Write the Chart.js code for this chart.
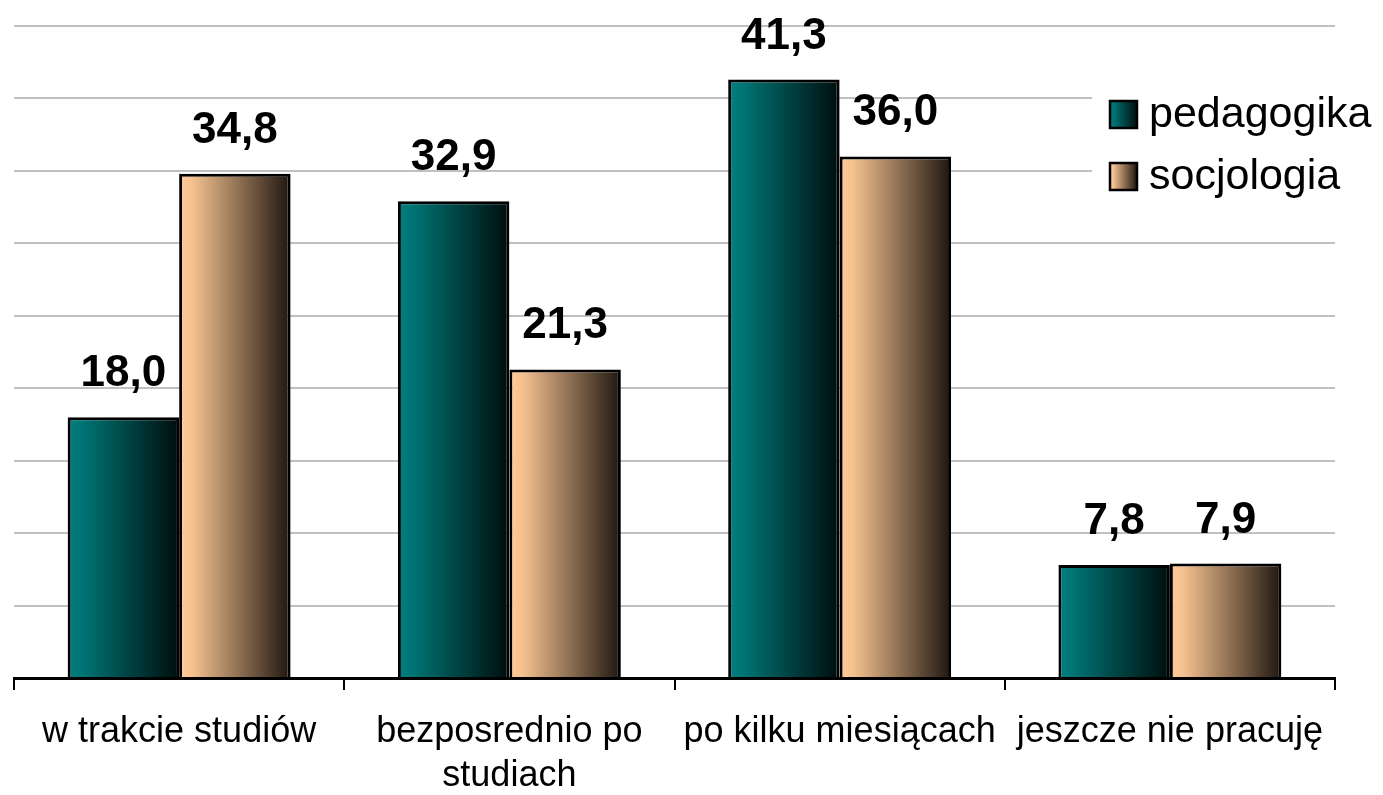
<!DOCTYPE html>
<html>
<head>
<meta charset="utf-8">
<script src="https://cdn.jsdelivr.net/npm/chart.js@4.4.1/dist/chart.umd.min.js"></script>
<style>
  body { margin: 0; background: #fff; }
  #wrap { width: 1383px; height: 795px; }
</style>
</head>
<body>
<div id="wrap"><canvas id="myChart"></canvas></div>
<script>
var categories = ["w trakcie studiów", ["bezposrednio po", "studiach"], "po kilku miesiącach", "jeszcze nie pracuję"];
var seriesNames = ["pedagogika", "socjologia"];
var pedagogika = [18.0, 32.9, 41.3, 7.8];
var socjologia = [34.8, 21.3, 36.0, 7.9];
var yTicks = [0, 5, 10, 15, 20, 25, 30, 35, 40, 45];

var FONT = "'Liberation Sans', Arial, sans-serif";
var CAT_PCT = 0.675;
var tealStops = ["#008080", "#007575", "#000d0d"];
var peachStops = ["#ffcc99", "#f4c18f", "#1e1610"];

// horizontal gradient across one bar, geometry taken from the x scale
function barGradient(ctx, stops) {
  var chart = ctx.chart;
  var xs = chart.scales.x;
  if (!chart.chartArea || !xs) return stops[0];
  var catW = xs.width / categories.length;
  var groupW = catW * CAT_PCT;
  var barW = groupW / 2;
  var left = xs.getPixelForValue(ctx.dataIndex) - groupW / 2 + ctx.datasetIndex * barW;
  var g = chart.ctx.createLinearGradient(left, 0, left + barW, 0);
  g.addColorStop(0, stops[0]);
  g.addColorStop(0.12, stops[1]);
  g.addColorStop(1, stops[2]);
  return g;
}

var valueLabels = {
  id: "valueLabels",
  afterDatasetsDraw: function (chart) {
    var c = chart.ctx;
    c.save();
    c.font = "bold 44px " + FONT;
    c.fillStyle = "#000";
    c.textAlign = "center";
    c.textBaseline = "alphabetic";
    chart.data.datasets.forEach(function (ds, di) {
      chart.getDatasetMeta(di).data.forEach(function (bar, i) {
        c.fillText(ds.data[i].toFixed(1).replace(".", ","), bar.x, bar.y - 31);
      });
    });
    c.restore();
  }
};

var sideLegend = {
  id: "sideLegend",
  afterDraw: function (chart) {
    var c = chart.ctx;
    var stops = [tealStops, peachStops];
    c.save();
    c.fillStyle = "#fff";
    c.fillRect(1092, 80, 291, 130);
    c.font = "43px " + FONT;
    c.textBaseline = "middle";
    c.textAlign = "left";
    seriesNames.forEach(function (name, i) {
      var y = 101 + i * 62;
      var g = c.createLinearGradient(1110, 0, 1137, 0);
      g.addColorStop(0, stops[i][0]);
      g.addColorStop(0.12, stops[i][1]);
      g.addColorStop(1, stops[i][2]);
      c.fillStyle = g;
      c.fillRect(1110, y, 27, 27);
      c.lineWidth = 2.5;
      c.strokeStyle = "#000";
      c.strokeRect(1110, y, 27, 27);
      c.fillStyle = "#000";
      c.fillText(name, 1149, y + 14);
    });
    c.restore();
  }
};

new Chart("myChart", {
  type: "bar",
  data: {
    labels: categories,
    datasets: [{
      label: seriesNames[0],
      data: pedagogika,
      backgroundColor: function (ctx) { return barGradient(ctx, tealStops); },
      borderColor: "#000",
      borderWidth: 3,
      categoryPercentage: CAT_PCT,
      barPercentage: 1
    }, {
      label: seriesNames[1],
      data: socjologia,
      backgroundColor: function (ctx) { return barGradient(ctx, peachStops); },
      borderColor: "#000",
      borderWidth: 3,
      categoryPercentage: CAT_PCT,
      barPercentage: 1
    }]
  },
  options: {
    responsive: true,
    maintainAspectRatio: false,
    animation: false,
    layout: { padding: { left: 14, right: 48, top: 26, bottom: 0 } },
    plugins: {
      legend: { display: false },
      tooltip: { enabled: false }
    },
    scales: {
      x: {
        offset: true,
        afterFit: function (scale) { scale.height = 117; },
        grid: {
          offset: true,
          drawOnChartArea: false,
          drawTicks: true,
          tickLength: 12,
          color: "#000",
          lineWidth: 2
        },
        border: { display: true, color: "#000", width: 3 },
        ticks: {
          color: "#000",
          font: { family: FONT, size: 36, lineHeight: 1.22 },
          maxRotation: 0,
          autoSkip: false,
          padding: 20
        }
      },
      y: {
        min: 0,
        max: 45,
        afterBuildTicks: function (axis) {
          axis.ticks = yTicks.map(function (v) { return { value: v }; });
        },
        grid: { color: "#c0c0c0", lineWidth: 2, drawTicks: false },
        border: { display: false },
        ticks: { display: false }
      }
    }
  },
  plugins: [valueLabels, sideLegend]
});
</script>
</body>
</html>
